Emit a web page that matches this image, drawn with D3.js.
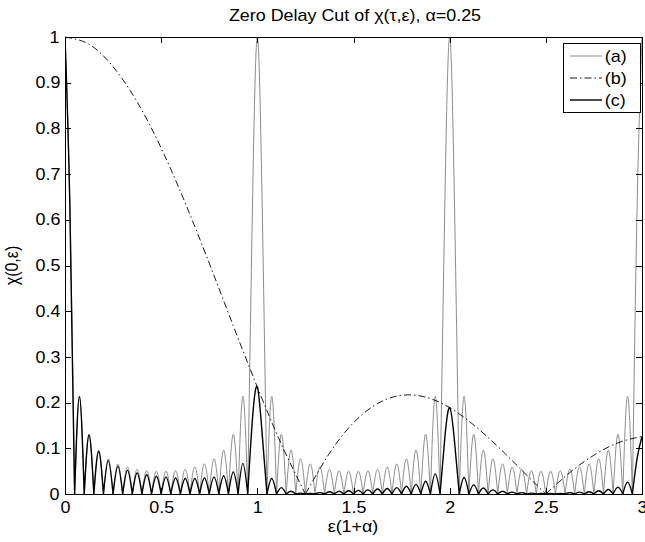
<!DOCTYPE html>
<meta charset="utf-8">
<title>Zero Delay Cut</title>
<style>
body { margin: 0; background: #fff; }
svg { display: block; font-family: "Liberation Sans", Arial, sans-serif; }
.axis path, .axis line { stroke: #000; stroke-width: 1px; shape-rendering: crispEdges; }
.axis text { font-size: 16px; fill: #000; }
.label { font-size: 16px; fill: #000; }
/* the original figure is stretched sideways a little */
.wide { transform-box: fill-box; transform-origin: center; transform: scaleX(1.12); }
.line { fill: none; }
.line--a { stroke: #8c8c8c; stroke-width: 1px; }
.line--b { stroke: #000; stroke-width: 0.9px; stroke-dasharray: 7,3,1.5,3; }
.line--c { stroke: #000; stroke-width: 1.4px; }
</style>
<svg id="chart" width="645" height="542"></svg>
<script src="https://d3js.org/d3.v7.min.js"></script>
<script>
// sample positions in ε(1+α) for (a) and (c): lobe nulls and lobe tops, every 0.025
const lobeEps = d3.range(121).map(k => k / 40);

// (a) gray curve
const seriesA = [
  1, .637, 0, .214, 0, .131, 0, .096, 0, .077, 0, .066, 0, .059, 0, .054, 0, .051, 0, .050,
  0, .050, 0, .051, 0, .054, 0, .059, 0, .066, 0, .077, 0, .096, 0, .131, 0, .214, 0, .637,
  1, .637, 0, .214, 0, .131, 0, .096, 0, .077, 0, .066, 0, .059, 0, .054, 0, .051, 0, .050,
  0, .050, 0, .051, 0, .054, 0, .059, 0, .066, 0, .077, 0, .096, 0, .131, 0, .214, 0, .637,
  1, .637, 0, .214, 0, .131, 0, .096, 0, .077, 0, .066, 0, .059, 0, .054, 0, .051, 0, .050,
  0, .050, 0, .051, 0, .054, 0, .059, 0, .066, 0, .077, 0, .096, 0, .131, 0, .214, 0, .637,
  1
];

// (c) black solid curve
const seriesC = [
  1, .637, 0, .213, 0, .129, 0, .093, 0, .073, 0, .061, 0, .052, 0, .046, 0, .042, 0, .039,
  0, .037, 0, .035, 0, .034, 0, .034, 0, .035, 0, .037, 0, .040, 0, .048, 0, .067, 0, .166,
  .234, .132, 0, .034, 0, .014, 0, .006, 0, .002, 0, .001, 0, .003, 0, .005, 0, .006, 0, .007,
  0, .008, 0, .009, 0, .011, 0, .012, 0, .014, 0, .017, 0, .021, 0, .028, 0, .044, 0, .124,
  .189, .116, 0, .036, 0, .020, 0, .013, 0, .009, 0, .006, 0, .004, 0, .003, 0, .002, 0, .001,
  0, .001, 0, .001, 0, .003, 0, .004, 0, .005, 0, .007, 0, .010, 0, .015, 0, .026, 0, .079,
  .126
];

// (b) dash-dot envelope, every 0.125
const envEps = d3.range(25).map(k => k / 8);
const seriesB = [
  1, .984, .935, .858, .757, .637, .505, .368, .234, .109, 0, .089, .156,
  .198, .216, .212, .189, .151, .104, .052, 0, .047, .085, .112, .126
];

const xTicks = [0, 0.5, 1, 1.5, 2, 2.5, 3];
const yTicks = [0, 0.1, 0.2, 0.3, 0.4, 0.5, 0.6, 0.7, 0.8, 0.9, 1];
const legendLabels = ["(a)", "(b)", "(c)"];

let svg = d3.select("#chart");

let x = d3.scaleLinear().domain([0, 3]).range([65, 642]),
    y = d3.scaleLinear().domain([0, 1]).range([494, 37]);

// split a curve into arches between its zeros
function lobes(xs, ys) {
  let segs = [], cur = [];
  xs.forEach((v, i) => {
    cur.push([v, ys[i]]);
    if (ys[i] === 0 && cur.length > 1) {
      segs.push(cur);
      cur = [[v, 0]];
    }
  });
  if (cur.length > 1) segs.push(cur);
  return segs;
}

let line = d3.line()
    .curve(d3.curveNatural)
    .x(d => x(d[0]))
    .y(d => y(d[1]));

svg.append("defs").append("clipPath").attr("id", "plot")
  .append("rect")
    .attr("x", x(0)).attr("y", y(1) - 1)
    .attr("width", x(3) - x(0)).attr("height", y(0) - y(1) + 1);

let plot = svg.append("g").attr("clip-path", "url(#plot)");

plot.append("path")
    .attr("class", "line line--a")
    .attr("d", lobes(lobeEps, seriesA).map(s => line(s)).join(""));

plot.append("path")
    .attr("class", "line line--b")
    .attr("d", lobes(envEps, seriesB).map(s => line(s)).join(""));

plot.append("path")
    .attr("class", "line line--c")
    .attr("d", lobes(lobeEps, seriesC).map(s => line(s)).join(""));

// box with inward ticks on all four sides
svg.append("g")
    .attr("class", "axis axis--x")
    .attr("transform", "translate(0," + y(0) + ")")
    .call(d3.axisBottom(x).tickValues(xTicks).tickFormat(d => String(d))
      .tickSize(-6).tickSizeOuter(0).tickPadding(8));

svg.append("g")
    .attr("class", "axis")
    .attr("transform", "translate(0," + y(1) + ")")
    .call(d3.axisTop(x).tickValues(xTicks).tickFormat(() => "")
      .tickSize(-6).tickSizeOuter(0));

svg.append("g")
    .attr("class", "axis axis--y")
    .attr("transform", "translate(" + x(0) + ",0)")
    .call(d3.axisLeft(y).tickValues(yTicks).tickFormat(d => String(d))
      .tickSize(-6).tickSizeOuter(0).tickPadding(6));

svg.append("g")
    .attr("class", "axis")
    .attr("transform", "translate(" + x(3) + ",0)")
    .call(d3.axisRight(y).tickValues(yTicks).tickFormat(() => "")
      .tickSize(-6).tickSizeOuter(0));

svg.selectAll(".axis text").classed("wide", true);

// titles
svg.append("text")
    .attr("class", "label wide")
    .attr("x", 355).attr("y", 21)
    .attr("text-anchor", "middle")
    .text("Zero Delay Cut of χ(τ,ε), α=0.25");

svg.append("text")
    .attr("class", "label wide")
    .attr("x", 353).attr("y", 532)
    .attr("text-anchor", "middle")
    .text("ε(1+α)");

svg.append("text")
    .attr("class", "label")
    .attr("transform", "translate(18," + (y(0.5)) + ") rotate(-90) scale(1,1.12)")
    .attr("text-anchor", "middle")
    .text("χ(0,ε)");

// legend
let legend = svg.append("g").attr("transform", "translate(563,43)");
legend.append("rect")
    .attr("width", 77).attr("height", 69)
    .attr("fill", "#fff").attr("stroke", "#000").attr("stroke-width", 1)
    .attr("shape-rendering", "crispEdges");

let entry = legend.selectAll(".entry")
  .data(legendLabels)
  .enter().append("g")
    .attr("class", "entry")
    .attr("transform", (d, i) => "translate(0," + (13 + i * 22) + ")");

entry.append("line")
    .attr("class", (d, i) => "line line--" + "abc"[i])
    .attr("x1", 7).attr("x2", 39).attr("y1", 0).attr("y2", 0);

entry.append("text")
    .attr("class", "label wide")
    .attr("x", 43).attr("dy", "0.35em")
    .text(d => d);
</script>
